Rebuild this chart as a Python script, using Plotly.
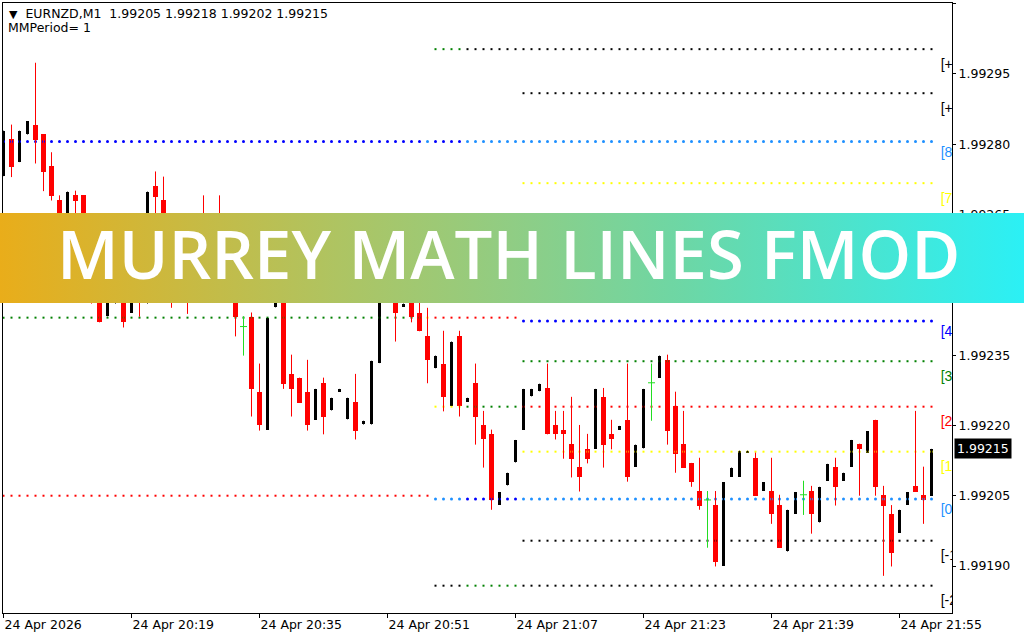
import base64
import plotly.graph_objects as go

# ---------------- data ----------------
symbol = "EURNZD,M1"
last_ohlc = ["1.99205", "1.99218", "1.99202", "1.99215"]
mm_period = 1
current_price = 1.99215

tick_bars = [0, 16, 32, 48, 64, 80, 96, 112]
tick_labels = ["24 Apr 2026", "24 Apr 20:19", "24 Apr 20:35", "24 Apr 20:51",
               "24 Apr 21:07", "24 Apr 21:23", "24 Apr 21:39", "24 Apr 21:55"]

open_ = [1.992732, 1.992812, 1.992762, 1.992821, 1.992842, 1.992821, 1.992753, 1.992682, 1.992580, 1.992691,
         1.992691, 1.992520, 1.992480, 1.992433, 1.992480, 1.992500, 1.992441, 1.992500, 1.992470, 1.992712,
         1.992682, 1.992540, 1.992500, 1.992520, 1.992490, 1.992520, 1.992500, 1.992530, 1.992500, 1.992480,
         1.992411, 1.992432, 1.992272, 1.992191, 1.992452, 1.992500, 1.992310, 1.992302, 1.992272, 1.992212,
         1.992291, 1.992232, 1.992272, 1.992213, 1.992250, 1.992202, 1.992202, 1.992333, 1.992500, 1.992500,
         1.992453, 1.992490, 1.992440, 1.992391, 1.992322, 1.992332, 1.992242, 1.992391, 1.992251, 1.992291,
         1.992201, 1.992182, 1.992031, 1.992072, 1.992121, 1.992191, 1.992262, 1.992273, 1.992280, 1.992201,
         1.992191, 1.992161, 1.992112, 1.992150, 1.992150, 1.992261, 1.992182, 1.992191, 1.992212, 1.992112,
         1.992151, 1.992291, 1.992302, 1.992340, 1.992242, 1.992161, 1.992120, 1.992060, 1.992041, 1.992030,
         1.991901, 1.992091, 1.992091, 1.992142, 1.992131, 1.992060, 1.992060, 1.992030, 1.991931, 1.992012,
         1.992052, 1.992060, 1.991993, 1.992082, 1.992112, 1.992082, 1.992112, 1.992161, 1.992142, 1.992212,
         1.992052, 1.992011, 1.991971, 1.992031, 1.992071, 1.992052, 1.992050]
high = [1.992829, 1.992842, 1.992829, 1.992849, 1.992974, 1.992821, 1.992783, 1.992691, 1.992699, 1.992701,
        1.992691, 1.992530, 1.992490, 1.992490, 1.992510, 1.992510, 1.992490, 1.992510, 1.992699, 1.992742,
        1.992731, 1.992550, 1.992530, 1.992530, 1.992520, 1.992691, 1.992530, 1.992691, 1.992510, 1.992490,
        1.992433, 1.992441, 1.992332, 1.992429, 1.992490, 1.992510, 1.992351, 1.992302, 1.992340, 1.992278,
        1.992302, 1.992259, 1.992278, 1.992259, 1.992310, 1.992210, 1.992338, 1.992500, 1.992530, 1.992510,
        1.992460, 1.992500, 1.992470, 1.992451, 1.992349, 1.992402, 1.992379, 1.992402, 1.992259, 1.992332,
        1.992231, 1.992191, 1.992058, 1.992099, 1.992169, 1.992278, 1.992278, 1.992289, 1.992332, 1.992231,
        1.992231, 1.992261, 1.992201, 1.992182, 1.992278, 1.992280, 1.992212, 1.992199, 1.992332, 1.992159,
        1.992278, 1.992332, 1.992349, 1.992351, 1.992272, 1.992231, 1.992120, 1.992131, 1.992060, 1.992060,
        1.992079, 1.992110, 1.992146, 1.992146, 1.992142, 1.992079, 1.992131, 1.992052, 1.992020, 1.992058,
        1.992082, 1.992071, 1.992069, 1.992118, 1.992131, 1.992099, 1.992169, 1.992161, 1.992188, 1.992212,
        1.992071, 1.992030, 1.992020, 1.992058, 1.992231, 1.992112, 1.992150]
low = [1.992732, 1.992730, 1.992762, 1.992821, 1.992759, 1.992700, 1.992680, 1.992540, 1.992560, 1.992600,
       1.992500, 1.992460, 1.992420, 1.992433, 1.992460, 1.992409, 1.992441, 1.992432, 1.992460, 1.992600,
       1.992540, 1.992451, 1.992480, 1.992438, 1.992470, 1.992480, 1.992490, 1.992480, 1.992470, 1.992390,
       1.992349, 1.992219, 1.992189, 1.992191, 1.992452, 1.992278, 1.992219, 1.992248, 1.992189, 1.992212,
       1.992181, 1.992232, 1.992272, 1.992213, 1.992170, 1.992202, 1.992202, 1.992333, 1.992470, 1.992379,
       1.992453, 1.992420, 1.992401, 1.992290, 1.992322, 1.992230, 1.992242, 1.992219, 1.992251, 1.992159,
       1.992110, 1.992020, 1.992031, 1.992072, 1.992121, 1.992191, 1.992262, 1.992273, 1.992181, 1.992170,
       1.992129, 1.992089, 1.992059, 1.992119, 1.992150, 1.992110, 1.992149, 1.992191, 1.992080, 1.992112,
       1.992151, 1.992210, 1.992302, 1.992159, 1.992099, 1.992110, 1.992069, 1.992020, 1.991939, 1.991899,
       1.991901, 1.992091, 1.992091, 1.992142, 1.992050, 1.992060, 1.991990, 1.991939, 1.991931, 1.992012,
       1.992009, 1.991969, 1.991993, 1.992082, 1.992029, 1.992082, 1.992112, 1.992050, 1.992142, 1.992050,
       1.991879, 1.991899, 1.991971, 1.992031, 1.992058, 1.991990, 1.992050]
close = [1.992829, 1.992751, 1.992829, 1.992849, 1.992810, 1.992740, 1.992689, 1.992560, 1.992699, 1.992680,
         1.992520, 1.992480, 1.992420, 1.992480, 1.992500, 1.992420, 1.992480, 1.992470, 1.992699, 1.992688,
         1.992560, 1.992500, 1.992520, 1.992490, 1.992510, 1.992500, 1.992520, 1.992500, 1.992480, 1.992431,
         1.992411, 1.992278, 1.992200, 1.992429, 1.992480, 1.992289, 1.992278, 1.992248, 1.992200, 1.992278,
         1.992219, 1.992259, 1.992278, 1.992259, 1.992189, 1.992210, 1.992338, 1.992500, 1.992520, 1.992439,
         1.992460, 1.992431, 1.992401, 1.992339, 1.992349, 1.992260, 1.992379, 1.992242, 1.992259, 1.992219,
         1.992170, 1.992040, 1.992058, 1.992099, 1.992169, 1.992278, 1.992278, 1.992289, 1.992181, 1.992181,
         1.992181, 1.992129, 1.992089, 1.992129, 1.992278, 1.992159, 1.992170, 1.992199, 1.992089, 1.992159,
         1.992278, 1.992291, 1.992349, 1.992189, 1.992140, 1.992110, 1.992080, 1.992029, 1.992041, 1.991909,
         1.992079, 1.992110, 1.992146, 1.992146, 1.992050, 1.992079, 1.992010, 1.991939, 1.992020, 1.992058,
         1.992052, 1.992010, 1.992069, 1.992118, 1.992069, 1.992099, 1.992169, 1.992149, 1.992188, 1.992069,
         1.992029, 1.991928, 1.992020, 1.992058, 1.992058, 1.992040, 1.992150]

# Murrey Math levels: each block = bar range, level names, level prices
mm_a_bars = [0, 52]
mm_a_names = ["4/8", "3/8", "2/8"]
mm_a_values = [1.992806, 1.992430, 1.992050]

mm_a2_bars = [53, 53]
mm_a2_names = ["8/8", "7/8", "6/8"]
mm_a2_values = [1.992806, 1.992430, 1.992050]

mm_b_bars = [54, 57]
mm_b_names = ["5/8", "4/8", "3/8", "2/8", "1/8", "0/8", "-1/8"]
mm_b_values = [1.993003, 1.992806, 1.992618, 1.992430, 1.992240, 1.992043, 1.991858]

mm_c_bars = [58, 64]
mm_c_names = ["+1/8", "8/8", "7/8", "6/8", "5/8", "4/8", "3/8"]
mm_c_values = [1.993003, 1.992806, 1.992618, 1.992430, 1.992240, 1.992043, 1.991858]

mm_d_bars = [65, 116]
mm_d_names = ["+2/8", "+1/8", "8/8", "7/8", "6/8", "5/8", "4/8", "3/8", "2/8", "1/8", "0/8", "-1/8", "-2/8"]
mm_d_values = [1.993003, 1.992909, 1.992806, 1.992717, 1.992619, 1.992521, 1.992423, 1.992337,
               1.992240, 1.992144, 1.992043, 1.991954, 1.991858]
# visible part of each level tag (cut by the chart edge); tags under the banner are not visible
mm_d_tags = ["[+2", "[+1", "[8", "[7", "", "", "[4", "[3", "[2", "[1", "[0", "[-1", "[-2"]

banner_text = "MURREY MATH LINES FMOD"

# ---------------- styling ----------------
W, H = 1024, 640
ML, MR, MT, MB = 3, 72, 3, 27
PW, PH = W - ML - MR, H - MT - MB
PX_PER_BAR = 8.0
X_RANGE = [-0.5 / PX_PER_BAR, -0.5 / PX_PER_BAR + PW / PX_PER_BAR]
Y_RANGE = [1.9917997, 1.9931015]
PX_PER_PRICE = PH / (Y_RANGE[1] - Y_RANGE[0])

BULL, BEAR, DOJI = "#000000", "#FF0000", "#22DD22"
LEVEL_COLOR = {"+2/8": "#000000", "+1/8": "#000000", "8/8": "#1E90FF", "7/8": "#FFFF00",
               "6/8": "#FF0000", "5/8": "#008000", "4/8": "#0000FF", "3/8": "#008000",
               "2/8": "#FF0000", "1/8": "#FFFF00", "0/8": "#1E90FF", "-1/8": "#000000",
               "-2/8": "#000000"}
BIG_LEVELS = {"8/8", "4/8", "0/8"}
FONT = "DejaVu Sans"


def px_x(px):
    return (px - ML) / PW


def px_y(py):
    return (H - MB - py) / PH


bars = list(range(len(open_)))
fig = go.Figure()

# Murrey Math dotted levels
for rng, names, values in [(mm_a_bars, mm_a_names, mm_a_values),
                           (mm_a2_bars, mm_a2_names, mm_a2_values),
                           (mm_b_bars, mm_b_names, mm_b_values),
                           (mm_c_bars, mm_c_names, mm_c_values),
                           (mm_d_bars, mm_d_names, mm_d_values)]:
    xs = list(range(rng[0], rng[1] + 1))
    for name, v in zip(names, values):
        big = name in BIG_LEVELS
        fig.add_trace(go.Scatter(
            x=xs, y=[v] * len(xs), mode="markers",
            marker=dict(symbol="circle" if big else "square", size=3 if big else 2,
                        color=LEVEL_COLOR[name], line=dict(width=0)),
            hoverinfo="skip", showlegend=False))

# candles
groups = {"bull": [], "bear": [], "doji": []}
for i in bars:
    if close[i] > open_[i]:
        groups["bull"].append(i)
    elif close[i] < open_[i]:
        groups["bear"].append(i)
    else:
        groups["doji"].append(i)

for key, color in [("bull", BULL), ("bear", BEAR), ("doji", DOJI)]:
    wx, wy = [], []
    for i in groups[key]:
        wx += [i, i, None]
        wy += [low[i], high[i], None]
    fig.add_trace(go.Scatter(x=wx, y=wy, mode="lines", line=dict(color=color, width=1),
                             hoverinfo="skip", showlegend=False))

for key, color, width in [("bull", BULL, 3 / PX_PER_BAR), ("bear", BEAR, 5 / PX_PER_BAR)]:
    idx = groups[key]
    fig.add_trace(go.Bar(
        x=idx,
        base=[min(open_[i], close[i]) for i in idx],
        y=[abs(close[i] - open_[i]) for i in idx],
        width=width, marker=dict(color=color, line=dict(width=0)),
        hoverinfo="skip", showlegend=False))

idx = groups["doji"]
fig.add_trace(go.Scatter(x=idx, y=[open_[i] for i in idx], mode="markers",
                         marker=dict(symbol="line-ew", size=5, line=dict(color=DOJI, width=1)),
                         hoverinfo="skip", showlegend=False))

# level tags for the latest block (clipped at the plot edge)
keep = [k for k, t in enumerate(mm_d_tags) if t]
label_offset_px = [16 if n not in BIG_LEVELS else 12 for n in mm_d_names]
fig.add_trace(go.Scatter(
    x=[mm_d_bars[1] + 1.15] * len(keep),
    y=[mm_d_values[k] - label_offset_px[k] / PX_PER_PRICE for k in keep],
    mode="text", text=[mm_d_tags[k] for k in keep],
    textposition="middle right",
    textfont=dict(family="Liberation Sans", size=14, color=[LEVEL_COLOR[mm_d_names[k]] for k in keep]),
    cliponaxis=True, hoverinfo="skip", showlegend=False))

# banner gradient (decoration)
stops = [(0.0, "#E9AD1A"), (0.33, "#AEC462"), (0.5, "#90CD84"), (0.67, "#6CD7A6"), (1.0, "#2BF0F5")]
svg = ('<svg xmlns="http://www.w3.org/2000/svg" width="1024" height="90" viewBox="0 0 1024 90" '
       'preserveAspectRatio="none"><defs><linearGradient id="g" x1="0" y1="0" x2="1" y2="0">'
       + "".join('<stop offset="%s" stop-color="%s"/>' % (o, c) for o, c in stops)
       + '</linearGradient></defs><rect x="0" y="0" width="1024" height="90" fill="url(#g)"/></svg>')
src = "data:image/svg+xml;base64," + base64.b64encode(svg.encode()).decode()
banner_top, banner_bottom = 213, 303

fig.update_layout(
    width=W, height=H, margin=dict(l=ML, r=MR, t=MT, b=MB, pad=0),
    paper_bgcolor="white", plot_bgcolor="white",
    barmode="overlay", bargap=0, hovermode=False, showlegend=False,
    font=dict(family=FONT, size=12.5, color="black"),
    xaxis=dict(range=X_RANGE, showgrid=False, zeroline=False,
               showline=True, mirror=True, linecolor="black", linewidth=1,
               tickmode="array", tickvals=tick_bars, ticktext=tick_labels,
               ticks="outside", ticklen=4, tickcolor="black",
               ticklabelposition="outside right",
               tickfont=dict(family=FONT, size=12.5, color="black")),
    yaxis=dict(range=Y_RANGE, side="right", showgrid=False, zeroline=False,
               showline=True, mirror=True, linecolor="black", linewidth=1,
               tick0=1.99190, dtick=0.00015, tickformat=".5f",
               ticks="outside", ticklen=3, tickcolor="black",
               tickfont=dict(family=FONT, size=12.5, color="black")),
    images=[dict(source=src, xref="paper", yref="paper",
                 x=px_x(0), y=px_y(banner_top), sizex=W / PW, sizey=(banner_bottom - banner_top) / PH,
                 xanchor="left", yanchor="top", sizing="stretch", layer="above")],
    annotations=[
        dict(xref="paper", yref="paper", x=px_x(7), y=px_y(13.8), xanchor="left", yanchor="middle",
             showarrow=False, align="left",
             text='<span style="font-size:11px">▼</span>&nbsp;&nbsp;' + symbol + "&nbsp;&nbsp;"
                  + "&nbsp;".join(last_ohlc),
             font=dict(family=FONT, size=12.5, color="black")),
        dict(xref="paper", yref="paper", x=px_x(6), y=px_y(27.2), xanchor="left", yanchor="middle",
             showarrow=False, align="left", text="MMPeriod= %d" % mm_period,
             font=dict(family=FONT, size=12.5, color="black")),
        dict(xref="paper", yref="y", x=1, y=current_price, xanchor="left", yanchor="middle",
             xshift=2, showarrow=False, text="%.5f" % current_price, bgcolor="black",
             borderpad=2, font=dict(family=FONT, size=12.5, color="white")),
        dict(xref="paper", yref="paper", x=px_x(508.5), y=px_y(253), xanchor="center", yanchor="middle",
             showarrow=False, text=banner_text,
             font=dict(family="Open Sans", size=67, color="white", weight=600)),
    ],
)

fig.write_html("out.html", include_plotlyjs=True, full_html=True,
               config={"displayModeBar": False},
               post_script="document.body.style.margin='0';document.body.style.overflow='hidden';")
